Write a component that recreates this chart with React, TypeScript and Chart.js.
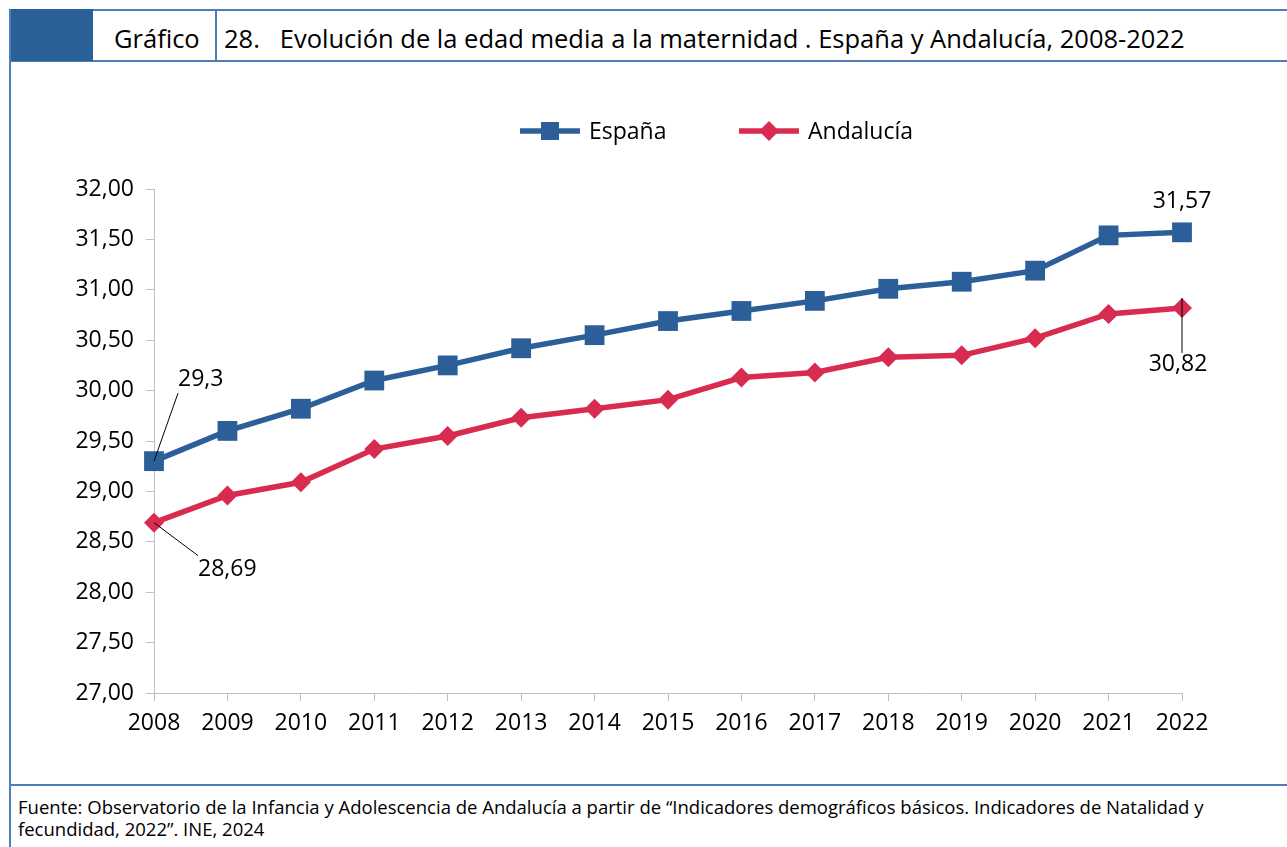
import React, { useEffect, useRef } from 'react';
import { Chart, registerables } from 'chart.js';

Chart.register(...registerables);

const years = ['2008', '2009', '2010', '2011', '2012', '2013', '2014', '2015', '2016', '2017', '2018', '2019', '2020', '2021', '2022'];
const espana = [29.30, 29.60, 29.82, 30.10, 30.25, 30.42, 30.55, 30.69, 30.79, 30.89, 31.01, 31.08, 31.19, 31.54, 31.57];
const andalucia = [28.69, 28.96, 29.09, 29.42, 29.55, 29.73, 29.82, 29.91, 30.13, 30.18, 30.33, 30.35, 30.52, 30.76, 30.82];
const seriesNames = ['España', 'Andalucía'];
const yMin = 27;
const yMax = 32;
const yStep = 0.5;

const BLUE = '#2C5F99';
const RED = '#D82B50';
const FONT = '"Open Sans", "Noto Sans", sans-serif';
const BORDER = '#4F7DB5';

const fmt = (v: number) => v.toFixed(2).replace('.', ',');

const legendPlugin = {
  id: 'customLegend',
  afterDraw(chart: any) {
    const ctx = chart.ctx;
    const y = 69;
    const items = [
      { x: 510, color: BLUE, style: 'rect', text: seriesNames[0] },
      { x: 729, color: RED, style: 'diamond', text: seriesNames[1] },
    ];
    ctx.save();
    items.forEach((it) => {
      ctx.strokeStyle = it.color;
      ctx.lineWidth = 5.5;
      ctx.beginPath();
      ctx.moveTo(it.x, y);
      ctx.lineTo(it.x + 60, y);
      ctx.stroke();
      ctx.fillStyle = it.color;
      const cx = it.x + 30;
      if (it.style === 'rect') {
        ctx.fillRect(cx - 9, y - 9, 18, 18);
      } else {
        ctx.beginPath();
        ctx.moveTo(cx - 10, y);
        ctx.lineTo(cx, y - 10);
        ctx.lineTo(cx + 10, y);
        ctx.lineTo(cx, y + 10);
        ctx.closePath();
        ctx.fill();
      }
      ctx.fillStyle = '#000';
      ctx.font = `23px ${FONT}`;
      ctx.textBaseline = 'middle';
      ctx.textAlign = 'left';
      ctx.fillText(it.text, it.x + 69, y + 1);
    });
    ctx.restore();
  },
};

const labelPlugin = {
  id: 'dataLabels',
  afterDatasetsDraw(chart: any) {
    const ctx = chart.ctx;
    const m0 = chart.getDatasetMeta(0).data;
    const m1 = chart.getDatasetMeta(1).data;
    const last = years.length - 1;
    ctx.save();
    ctx.font = `23px ${FONT}`;
    ctx.fillStyle = '#000';
    ctx.strokeStyle = '#000';
    ctx.lineWidth = 1;
    ctx.textBaseline = 'middle';

    const a = m0[0];
    ctx.beginPath();
    ctx.moveTo(a.x, a.y);
    ctx.lineTo(a.x + 24, a.y - 68);
    ctx.stroke();
    ctx.textAlign = 'left';
    ctx.fillText(String(espana[0]).replace('.', ','), a.x + 24, a.y - 82);

    const b = m1[0];
    ctx.beginPath();
    ctx.moveTo(b.x, b.y);
    ctx.lineTo(b.x + 44, b.y + 33);
    ctx.stroke();
    ctx.fillText(fmt(andalucia[0]), b.x + 44, b.y + 47);

    const c = m0[last];
    ctx.textAlign = 'center';
    ctx.fillText(fmt(espana[last]), c.x, c.y - 31);

    const d = m1[last];
    ctx.beginPath();
    ctx.moveTo(d.x, d.y - 10);
    ctx.lineTo(d.x, d.y + 45);
    ctx.stroke();
    ctx.fillText(fmt(andalucia[last]), d.x - 4, d.y + 57);
    ctx.restore();
  },
};

function ChartCanvas() {
  const ref = useRef<HTMLCanvasElement>(null);
  useEffect(() => {
    if (!ref.current) return;
    const chart = new Chart(ref.current, {
      type: 'line',
      data: {
        labels: years,
        datasets: [
          {
            label: seriesNames[0],
            data: espana,
            borderColor: BLUE,
            backgroundColor: BLUE,
            borderWidth: 5.5,
            pointStyle: 'rect',
            pointRadius: 14,
            pointBorderWidth: 0,
            pointBackgroundColor: BLUE,
            tension: 0,
          },
          {
            label: seriesNames[1],
            data: andalucia,
            borderColor: RED,
            backgroundColor: RED,
            borderWidth: 5.5,
            pointStyle: 'rectRot',
            pointRadius: 10,
            pointBorderWidth: 0,
            pointBackgroundColor: RED,
            tension: 0,
          },
        ],
      },
      options: {
        animation: false,
        responsive: false,
        devicePixelRatio: 1,
        layout: { padding: { left: 0, right: 105, top: 127, bottom: 0 } },
        plugins: {
          legend: { display: false },
          tooltip: { enabled: false },
          title: { display: false },
        },
        scales: {
          x: {
            type: 'category',
            offset: false,
            grid: { display: true, drawOnChartArea: false, drawTicks: true, tickLength: 8, color: '#BFBFBF' },
            border: { display: true, color: '#BFBFBF', width: 1 },
            ticks: { color: '#000', font: { family: FONT, size: 23 }, padding: 9, maxRotation: 0, autoSkip: false },
            afterFit: (s: any) => { s.height = 91; },
          },
          y: {
            min: yMin,
            max: yMax,
            grid: { display: true, drawOnChartArea: false, drawTicks: true, tickLength: 8, color: '#BFBFBF' },
            border: { display: true, color: '#BFBFBF', width: 1 },
            ticks: {
              stepSize: yStep,
              color: '#000',
              font: { family: FONT, size: 23 },
              padding: 12,
              callback: (v: any) => fmt(Number(v)),
            },
            afterFit: (s: any) => { s.width = 144; },
          },
        },
      },
      plugins: [legendPlugin, labelPlugin],
    });
    return () => chart.destroy();
  }, []);
  return <canvas ref={ref} width={1277} height={722} style={{ position: 'absolute', left: 10, top: 62, width: 1277, height: 722 }} />;
}

export default function App() {
  return (
    <div style={{ position: 'absolute', left: 0, top: 0, width: 1287, height: 847, background: '#fff', overflow: 'hidden', fontFamily: FONT }}>
      <div style={{ position: 'absolute', left: 9, top: 9, width: 1278, height: 1.5, background: BORDER }} />
      <div style={{ position: 'absolute', left: 9, top: 60, width: 1278, height: 1.5, background: BORDER }} />
      <div style={{ position: 'absolute', left: 9, top: 9, width: 84, height: 52, background: '#2B5F97' }} />
      <div style={{ position: 'absolute', left: 9, top: 9, width: 1.5, height: 838, background: BORDER }} />
      <div style={{ position: 'absolute', left: 215, top: 9, width: 1.5, height: 52, background: BORDER }} />
      <div style={{ position: 'absolute', left: 9, top: 784, width: 1278, height: 1.5, background: BORDER }} />
      <div style={{ position: 'absolute', left: 114, top: 15, fontSize: 25.5, lineHeight: '46px', color: '#000', whiteSpace: 'nowrap' }}>Gráfico</div>
      <div style={{ position: 'absolute', left: 224, top: 15, fontSize: 25.5, lineHeight: '46px', color: '#000', whiteSpace: 'pre' }}>
        {'28.   Evolución de la edad media a la maternidad . España y Andalucía, 2008-2022'}
      </div>
      <ChartCanvas />
      <div style={{ position: 'absolute', left: 18, top: 796, fontSize: 18.5, lineHeight: '22px', color: '#000', whiteSpace: 'nowrap' }}>
        Fuente: Observatorio de la Infancia y Adolescencia de Andalucía a partir de “Indicadores demográficos básicos. Indicadores de Natalidad y
        <br />
        fecundidad, 2022”. INE, 2024
      </div>
    </div>
  );
}
